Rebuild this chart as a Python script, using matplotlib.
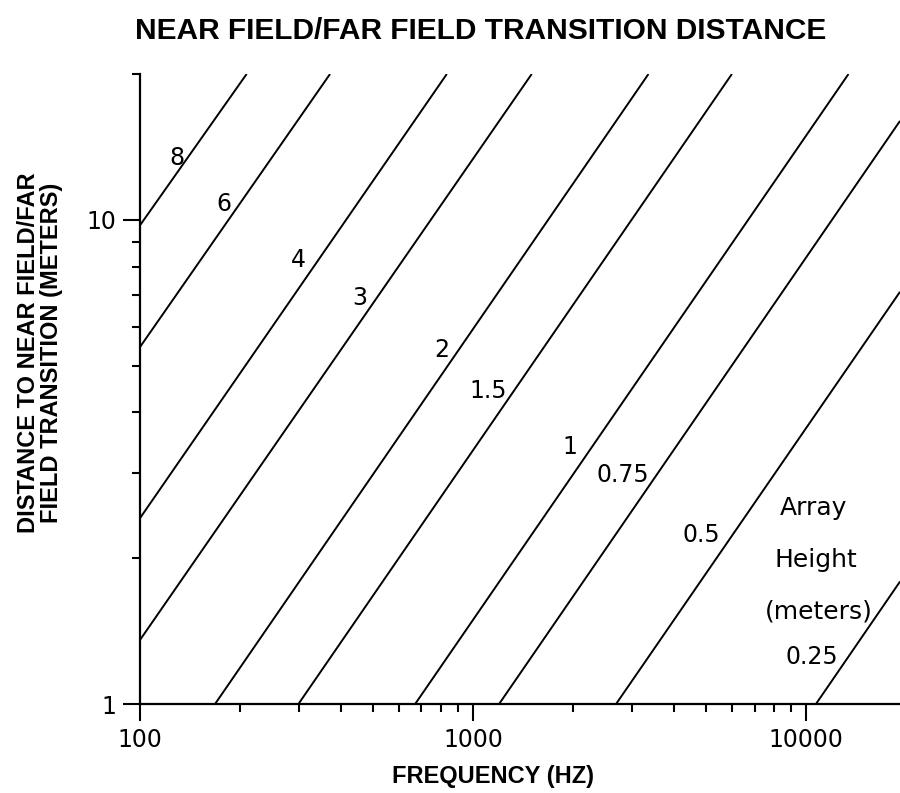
import matplotlib
matplotlib.use("Agg")
import matplotlib.pyplot as plt
from matplotlib.ticker import FixedLocator, NullFormatter

# array heights (m) and the two end points of each transition line
heights = [8, 6, 4, 3, 2, 1.5, 1, 0.75, 0.5, 0.25]
start_freq = [100, 100, 100, 100, 168, 299, 670, 1197, 2687, 10700]
start_dist = [9.74, 5.46, 2.42, 1.356, 1, 1, 1, 1, 1, 1]
end_freq = [209, 372, 834, 1500, 3362, 5985, 13400, 19130, 19130, 19130]
end_dist = [20, 20, 20, 20, 20, 20, 20, 16.0, 7.1, 1.79]

# label text and where it sits
label_text = ["8", "6", "4", "3", "2", "1.5", "1", "0.75", "0.5", "0.25"]
label_freq = [129, 178, 299, 458, 807, 1112, 1950, 2825, 4840, 10400]
label_dist = [13.4, 10.8, 8.25, 6.88, 5.38, 4.43, 3.39, 2.97, 2.23, 1.25]

note_text = ["Array", "Height", "(meters)"]
note_freq = [10500, 10700, 10950]
note_dist = [2.54, 1.98, 1.55]

x_major = [100, 1000, 10000]
x_minor = [200, 300, 400, 500, 600, 700, 800, 900,
           2000, 3000, 4000, 5000, 6000, 7000, 8000, 9000]
y_major = [1, 10]
y_minor = [2, 3, 4, 5, 6, 7, 8, 9, 20]

fig = plt.figure(figsize=(9, 7.93), dpi=100)
ax = fig.add_axes([140 / 900, 89 / 793, 760 / 900, 630 / 793])

for h, f0, d0, f1, d1 in zip(heights, start_freq, start_dist, end_freq, end_dist):
    ax.plot([f0, f1], [d0, d1], color="black", lw=1.4, solid_capstyle="butt")

for t, f, d in zip(label_text, label_freq, label_dist):
    ax.text(f, d, t, ha="center", va="center", fontsize=17, family="DejaVu Sans")

for t, f, d in zip(note_text, note_freq, note_dist):
    ax.text(f, d, t, ha="center", va="center", fontsize=18, family="DejaVu Sans")

ax.set_xscale("log")
ax.set_yscale("log")
ax.set_xlim(100, 19130)
ax.set_ylim(1, 20)

ax.xaxis.set_major_locator(FixedLocator(x_major))
ax.xaxis.set_minor_locator(FixedLocator(x_minor))
ax.yaxis.set_major_locator(FixedLocator(y_major))
ax.yaxis.set_minor_locator(FixedLocator(y_minor))
ax.set_xticklabels([str(v) for v in x_major])
ax.set_yticklabels([str(v) for v in y_major])
ax.xaxis.set_minor_formatter(NullFormatter())
ax.yaxis.set_minor_formatter(NullFormatter())

ax.tick_params(which="major", length=12, width=1.5, labelsize=17, pad=5)
ax.tick_params(which="minor", length=6, width=1.5)

for s in ["top", "right"]:
    ax.spines[s].set_visible(False)
for s in ["left", "bottom"]:
    ax.spines[s].set_linewidth(1.6)

fig.text(481 / 900, 1 - 31 / 793, "NEAR FIELD/FAR FIELD TRANSITION DISTANCE",
         ha="center", va="center", fontsize=21.5, fontweight="bold",
         family="Liberation Sans")
fig.text(493 / 900, 1 - 777 / 793, "FREQUENCY (HZ)", ha="center", va="center",
         fontsize=17, fontweight="bold", family="Liberation Sans")
fig.text(40 / 900, 1 - 353 / 793, "DISTANCE TO NEAR FIELD/FAR\nFIELD TRANSITION (METERS)",
         ha="center", va="center", rotation=90, fontsize=17, fontweight="bold",
         family="Liberation Sans", linespacing=1.0)

fig.savefig("out.png", dpi=100)
